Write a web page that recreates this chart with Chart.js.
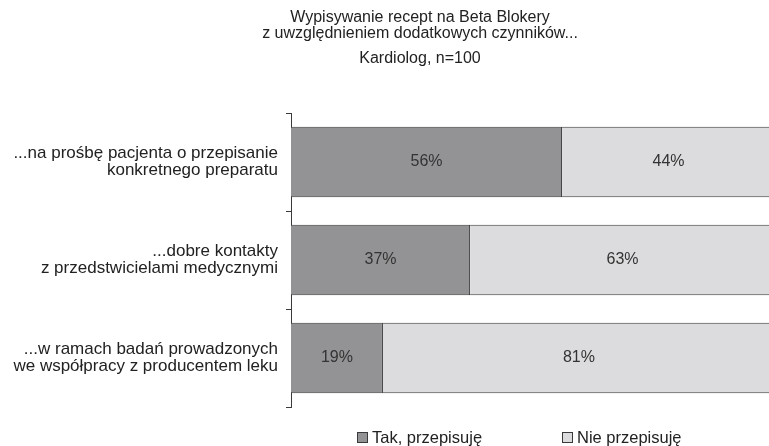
<!DOCTYPE html>
<html>
<head>
<meta charset="utf-8">
<script src="https://cdn.jsdelivr.net/npm/chart.js@4/dist/chart.umd.min.js"></script>
<style>
  html, body { margin: 0; padding: 0; background: #fff; }
  #wrap { width: 769px; height: 446px; }
</style>
</head>
<body>
<div id="wrap"><canvas id="barChart" width="769" height="446"></canvas></div>
<script>
var categories = [
    ['...na prośbę pacjenta o przepisanie', 'konkretnego preparatu'],
    ['...dobre kontakty', 'z przedstwicielami medycznymi'],
    ['...w ramach badań prowadzonych', 'we współpracy z producentem leku']
];
var seriesNames = ['Tak, przepisuję', 'Nie przepisuję'];
var takValues = [56, 37, 19];
var nieValues = [44, 63, 81];
var titleLines = ['Wypisywanie recept na Beta Blokery', 'z uwzględnieniem dodatkowych czynników...'];
var subtitle = 'Kardiolog, n=100';

var FONT = '"Liberation Sans", Arial, sans-serif';
var darkFill = '#939395';
var lightFill = '#dcdcde';
var edge = '#3a3a3a';

// the 100% end of the bars sits a little past the right edge of the picture
var stretchX = {
    id: 'stretchX',
    afterLayout: function(chart) {
        var x = chart.scales.x;
        x.right = chart.chartArea.right + 6;
        x.width = x.right - x.left;
        x.configure();
    }
};

// titles, percentages inside bars and the legend at the bottom
var extras = {
    id: 'extras',
    afterDatasetsDraw: function(chart) {
        var ctx = chart.ctx;
        ctx.save();
        ctx.fillStyle = '#222';
        ctx.textAlign = 'center';
        ctx.textBaseline = 'middle';
        ctx.font = '16px ' + FONT;
        ctx.fillText(titleLines[0], 420, 18);
        ctx.fillText(titleLines[1], 420, 34);
        ctx.fillText(subtitle, 420, 59);

        ctx.fillStyle = '#333';
        chart.data.datasets.forEach(function(ds, di) {
            var meta = chart.getDatasetMeta(di);
            meta.data.forEach(function(bar, i) {
                var x = (bar.x + bar.base) / 2;
                ctx.fillText(ds.data[i] + '%', x, bar.y);
            });
        });

        var items = [
            { x: 357, fill: darkFill, text: seriesNames[0] },
            { x: 562, fill: lightFill, text: seriesNames[1] }
        ];
        ctx.textAlign = 'left';
        ctx.font = '16.5px ' + FONT;
        items.forEach(function(it) {
            ctx.fillStyle = it.fill;
            ctx.fillRect(it.x + 0.5, 432.5, 10, 10);
            ctx.strokeStyle = edge;
            ctx.lineWidth = 1;
            ctx.strokeRect(it.x + 0.5, 432.5, 10, 10);
            ctx.fillStyle = '#222';
            ctx.fillText(it.text, it.x + 15, 438);
        });
        ctx.restore();
    }
};

new Chart(document.getElementById('barChart'), {
    type: 'bar',
    data: {
        labels: categories,
        datasets: [{
            label: seriesNames[0],
            data: takValues,
            backgroundColor: darkFill,
            borderColor: edge,
            borderWidth: { top: 1, bottom: 1, left: 0, right: 1 },
            borderSkipped: false,
            barPercentage: 0.72,
            categoryPercentage: 1
        }, {
            label: seriesNames[1],
            data: nieValues,
            backgroundColor: lightFill,
            borderColor: edge,
            borderWidth: { top: 1, bottom: 1, left: 0, right: 0 },
            borderSkipped: false,
            barPercentage: 0.72,
            categoryPercentage: 1
        }]
    },
    options: {
        indexAxis: 'y',
        responsive: false,
        animation: false,
        layout: { padding: { top: 113, bottom: 39, left: 0, right: 0 } },
        plugins: {
            legend: { display: false },
            title: { display: false },
            tooltip: { enabled: false }
        },
        scales: {
            x: {
                stacked: true,
                min: 0,
                max: 100,
                display: false
            },
            y: {
                stacked: true,
                afterFit: function(scale) { scale.width = 291; },
                border: { display: true, color: edge, width: 1 },
                grid: {
                    offset: true,
                    drawOnChartArea: false,
                    drawTicks: true,
                    tickLength: 5,
                    color: edge
                },
                ticks: {
                    color: '#222',
                    padding: 8,
                    font: { family: FONT, size: 17, lineHeight: '17px' }
                }
            }
        }
    },
    plugins: [stretchX, extras]
});
</script>
</body>
</html>
